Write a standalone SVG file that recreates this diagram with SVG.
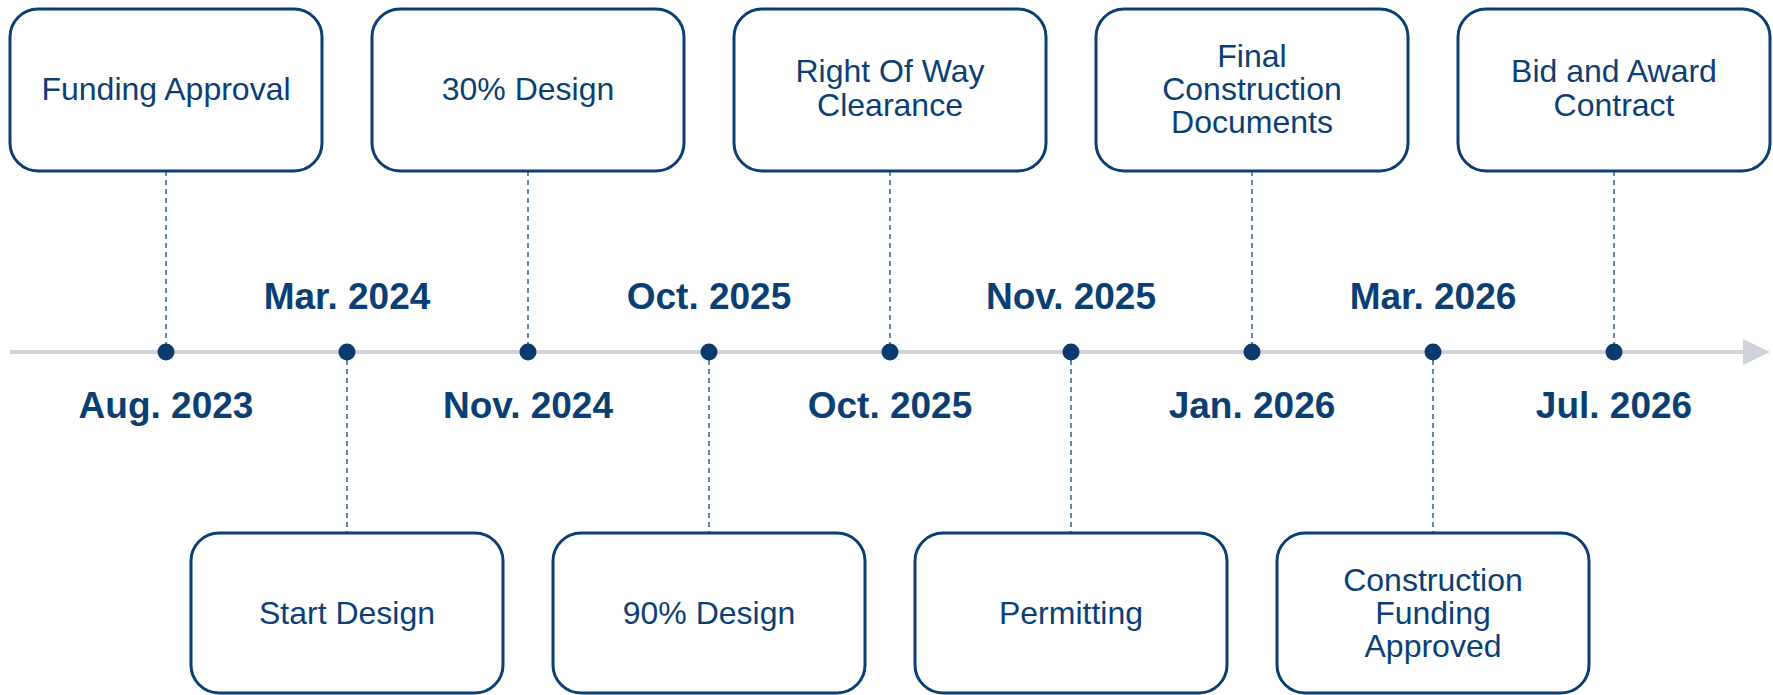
<svg xmlns="http://www.w3.org/2000/svg" width="1773" height="695" viewBox="0 0 1773 695">
<style>
.box{fill:#fff;stroke:#0b3f73;stroke-width:3}
.lbl{font-family:"Liberation Sans",Arial,sans-serif;font-size:32px;fill:#0b3f73;text-anchor:middle}
.date{font-family:"Liberation Sans",Arial,sans-serif;font-size:37px;font-weight:bold;fill:#0b3f73;text-anchor:middle}
.dash{stroke:#3f6994;stroke-width:1.6;stroke-dasharray:5 4;fill:none}
.dot{fill:#0b3a6e}
</style>
<g id="axis">
<line x1="10" y1="352" x2="1746" y2="352" stroke="#d0d3da" stroke-width="4"/>
<polygon points="1743,339 1770,352 1743,365" fill="#cfd2d9"/>
</g>
<g id="connectors">
<line class="dash" x1="166" y1="171" x2="166" y2="344"/>
<line class="dash" x1="347" y1="360" x2="347" y2="533"/>
<line class="dash" x1="528" y1="171" x2="528" y2="344"/>
<line class="dash" x1="709" y1="360" x2="709" y2="533"/>
<line class="dash" x1="890" y1="171" x2="890" y2="344"/>
<line class="dash" x1="1071" y1="360" x2="1071" y2="533"/>
<line class="dash" x1="1252" y1="171" x2="1252" y2="344"/>
<line class="dash" x1="1433" y1="360" x2="1433" y2="533"/>
<line class="dash" x1="1614" y1="171" x2="1614" y2="344"/>
</g>
<g id="dots">
<circle class="dot" cx="166" cy="352" r="8.5"/>
<circle class="dot" cx="347" cy="352" r="8.5"/>
<circle class="dot" cx="528" cy="352" r="8.5"/>
<circle class="dot" cx="709" cy="352" r="8.5"/>
<circle class="dot" cx="890" cy="352" r="8.5"/>
<circle class="dot" cx="1071" cy="352" r="8.5"/>
<circle class="dot" cx="1252" cy="352" r="8.5"/>
<circle class="dot" cx="1433" cy="352" r="8.5"/>
<circle class="dot" cx="1614" cy="352" r="8.5"/>
</g>
<g id="dates">
<text class="date" x="166" y="418">Aug. 2023</text>
<text class="date" x="347" y="309">Mar. 2024</text>
<text class="date" x="528" y="418">Nov. 2024</text>
<text class="date" x="709" y="309">Oct. 2025</text>
<text class="date" x="890" y="418">Oct. 2025</text>
<text class="date" x="1071" y="309">Nov. 2025</text>
<text class="date" x="1252" y="418">Jan. 2026</text>
<text class="date" x="1433" y="309">Mar. 2026</text>
<text class="date" x="1614" y="418">Jul. 2026</text>
</g>
<g id="n1"><rect class="box" x="10" y="9" width="312" height="162" rx="28"/><text class="lbl" x="166" y="100">Funding Approval</text></g>
<g id="n2"><rect class="box" x="191" y="533" width="312" height="160" rx="28"/><text class="lbl" x="347" y="624">Start Design</text></g>
<g id="n3"><rect class="box" x="372" y="9" width="312" height="162" rx="28"/><text class="lbl" x="528" y="100">30% Design</text></g>
<g id="n4"><rect class="box" x="553" y="533" width="312" height="160" rx="28"/><text class="lbl" x="709" y="624">90% Design</text></g>
<g id="n5"><rect class="box" x="734" y="9" width="312" height="162" rx="28"/><text class="lbl" x="890" y="82">Right Of Way</text><text class="lbl" x="890" y="116">Clearance</text></g>
<g id="n6"><rect class="box" x="915" y="533" width="312" height="160" rx="28"/><text class="lbl" x="1071" y="624">Permitting</text></g>
<g id="n7"><rect class="box" x="1096" y="9" width="312" height="162" rx="28"/><text class="lbl" x="1252" y="67">Final</text><text class="lbl" x="1252" y="100">Construction</text><text class="lbl" x="1252" y="133">Documents</text></g>
<g id="n8"><rect class="box" x="1277" y="533" width="312" height="160" rx="28"/><text class="lbl" x="1433" y="591">Construction</text><text class="lbl" x="1433" y="624">Funding</text><text class="lbl" x="1433" y="657">Approved</text></g>
<g id="n9"><rect class="box" x="1458" y="9" width="312" height="162" rx="28"/><text class="lbl" x="1614" y="82">Bid and Award</text><text class="lbl" x="1614" y="116">Contract</text></g>
</svg>
